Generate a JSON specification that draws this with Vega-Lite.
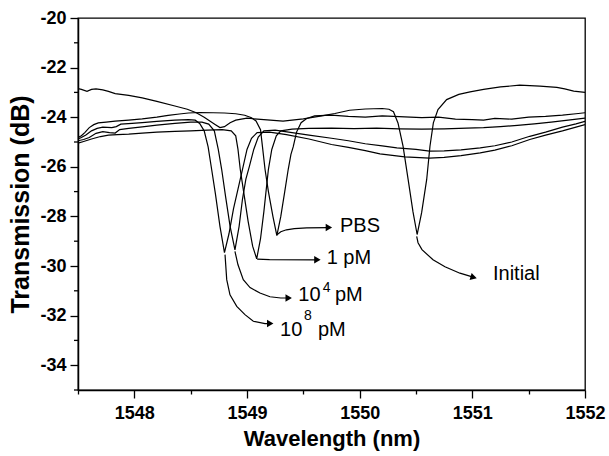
{
  "$schema": "https://vega.github.io/schema/vega-lite/v6.json",
  "width": 507,
  "height": 372,
  "autosize": {"type": "none"},
  "padding": {"left": 78, "top": 18, "right": 24, "bottom": 66},
  "background": "white",
  "config": {
    "view": {"stroke": "black", "strokeWidth": 1.3},
    "font": "Liberation Sans",
    "axis": {"grid": false, "domainColor": "black", "domainWidth": 1.5, "tickColor": "black", "tickWidth": 1.3, "labelColor": "black", "titleColor": "black", "labelOverlap": false, "labelFlush": false}
  },
  "datasets": {
    "curves": [
      {"s":"Initial","x":1547.50,"y":-22.85},{"s":"Initial","x":1547.53,"y":-22.88},{"s":"Initial","x":1547.58,"y":-22.96},{"s":"Initial","x":1547.62,"y":-22.88},{"s":"Initial","x":1547.66,"y":-22.86},{"s":"Initial","x":1547.72,"y":-22.90},{"s":"Initial","x":1547.77,"y":-22.96},{"s":"Initial","x":1547.83,"y":-23.05},{"s":"Initial","x":1547.95,"y":-23.12},{"s":"Initial","x":1548.07,"y":-23.22},{"s":"Initial","x":1548.20,"y":-23.36},{"s":"Initial","x":1548.36,"y":-23.55},{"s":"Initial","x":1548.47,"y":-23.68},{"s":"Initial","x":1548.55,"y":-23.82},{"s":"Initial","x":1548.62,"y":-24.00},{"s":"Initial","x":1548.68,"y":-24.18},{"s":"Initial","x":1548.72,"y":-24.30},{"s":"Initial","x":1548.76,"y":-24.42},{"s":"Initial","x":1548.80,"y":-24.38},{"s":"Initial","x":1548.85,"y":-24.22},{"s":"Initial","x":1548.90,"y":-24.12},{"s":"Initial","x":1549.00,"y":-24.04},{"s":"Initial","x":1549.15,"y":-24.10},{"s":"Initial","x":1549.32,"y":-24.16},{"s":"Initial","x":1549.50,"y":-24.07},{"s":"Initial","x":1549.65,"y":-23.96},{"s":"Initial","x":1549.78,"y":-23.85},{"s":"Initial","x":1549.91,"y":-23.72},{"s":"Initial","x":1550.05,"y":-23.67},{"s":"Initial","x":1550.20,"y":-23.65},{"s":"Initial","x":1550.26,"y":-23.68},{"s":"Initial","x":1550.30,"y":-23.78},{"s":"Initial","x":1550.34,"y":-24.23},{"s":"Initial","x":1550.385,"y":-25.17},{"s":"Initial","x":1550.43,"y":-26.51},{"s":"Initial","x":1550.473,"y":-27.81},{"s":"Initial","x":1550.51,"y":-28.73},{"s":"Initial","x":1550.55,"y":-27.85},{"s":"Initial","x":1550.595,"y":-26.51},{"s":"Initial","x":1550.624,"y":-25.17},{"s":"Initial","x":1550.654,"y":-24.23},{"s":"Initial","x":1550.695,"y":-23.69},{"s":"Initial","x":1550.772,"y":-23.29},{"s":"Initial","x":1550.88,"y":-23.08},{"s":"Initial","x":1550.98,"y":-22.98},{"s":"Initial","x":1551.10,"y":-22.88},{"s":"Initial","x":1551.25,"y":-22.78},{"s":"Initial","x":1551.42,"y":-22.71},{"s":"Initial","x":1551.60,"y":-22.75},{"s":"Initial","x":1551.75,"y":-22.80},{"s":"Initial","x":1551.82,"y":-22.86},{"s":"Initial","x":1551.90,"y":-22.95},{"s":"Initial","x":1552.00,"y":-23.00},

      {"s":"PBS","x":1547.50,"y":-24.82},{"s":"PBS","x":1547.53,"y":-24.75},{"s":"PBS","x":1547.56,"y":-24.62},{"s":"PBS","x":1547.60,"y":-24.42},{"s":"PBS","x":1547.64,"y":-24.30},{"s":"PBS","x":1547.68,"y":-24.23},{"s":"PBS","x":1547.75,"y":-24.20},{"s":"PBS","x":1547.83,"y":-24.16},{"s":"PBS","x":1547.95,"y":-24.12},{"s":"PBS","x":1548.07,"y":-24.07},{"s":"PBS","x":1548.20,"y":-24.00},{"s":"PBS","x":1548.30,"y":-23.93},{"s":"PBS","x":1548.40,"y":-23.87},{"s":"PBS","x":1548.48,"y":-23.83},{"s":"PBS","x":1548.58,"y":-23.81},{"s":"PBS","x":1548.70,"y":-23.82},{"s":"PBS","x":1548.80,"y":-23.83},{"s":"PBS","x":1548.90,"y":-23.86},{"s":"PBS","x":1548.98,"y":-23.92},{"s":"PBS","x":1549.04,"y":-24.02},{"s":"PBS","x":1549.08,"y":-24.15},{"s":"PBS","x":1549.12,"y":-24.50},{"s":"PBS","x":1549.14,"y":-25.30},{"s":"PBS","x":1549.16,"y":-26.10},{"s":"PBS","x":1549.19,"y":-27.00},{"s":"PBS","x":1549.23,"y":-28.00},{"s":"PBS","x":1549.265,"y":-28.78},{"s":"PBS","x":1549.30,"y":-28.00},{"s":"PBS","x":1549.335,"y":-27.00},{"s":"PBS","x":1549.366,"y":-26.10},{"s":"PBS","x":1549.39,"y":-25.50},{"s":"PBS","x":1549.41,"y":-25.20},{"s":"PBS","x":1549.44,"y":-24.60},{"s":"PBS","x":1549.48,"y":-24.22},{"s":"PBS","x":1549.53,"y":-24.05},{"s":"PBS","x":1549.60,"y":-23.95},{"s":"PBS","x":1549.75,"y":-23.92},{"s":"PBS","x":1549.90,"y":-23.97},{"s":"PBS","x":1550.05,"y":-24.00},{"s":"PBS","x":1550.20,"y":-23.95},{"s":"PBS","x":1550.35,"y":-23.98},{"s":"PBS","x":1550.55,"y":-24.02},{"s":"PBS","x":1550.70,"y":-24.00},{"s":"PBS","x":1550.85,"y":-24.08},{"s":"PBS","x":1551.00,"y":-24.10},{"s":"PBS","x":1551.10,"y":-24.12},{"s":"PBS","x":1551.20,"y":-24.05},{"s":"PBS","x":1551.35,"y":-24.08},{"s":"PBS","x":1551.50,"y":-24.00},{"s":"PBS","x":1551.65,"y":-23.97},{"s":"PBS","x":1551.80,"y":-23.92},{"s":"PBS","x":1551.92,"y":-23.86},{"s":"PBS","x":1552.00,"y":-23.82},

      {"s":"1pM","x":1547.50,"y":-25.05},{"s":"1pM","x":1547.55,"y":-24.98},{"s":"1pM","x":1547.62,"y":-24.88},{"s":"1pM","x":1547.70,"y":-24.78},{"s":"1pM","x":1547.77,"y":-24.72},{"s":"1pM","x":1547.85,"y":-24.70},{"s":"1pM","x":1547.95,"y":-24.68},{"s":"1pM","x":1548.07,"y":-24.64},{"s":"1pM","x":1548.20,"y":-24.60},{"s":"1pM","x":1548.36,"y":-24.57},{"s":"1pM","x":1548.50,"y":-24.55},{"s":"1pM","x":1548.65,"y":-24.52},{"s":"1pM","x":1548.78,"y":-24.50},{"s":"1pM","x":1548.86,"y":-24.55},{"s":"1pM","x":1548.90,"y":-24.75},{"s":"1pM","x":1548.92,"y":-25.30},{"s":"1pM","x":1548.94,"y":-26.10},{"s":"1pM","x":1548.97,"y":-27.00},{"s":"1pM","x":1549.01,"y":-28.20},{"s":"1pM","x":1549.05,"y":-29.20},{"s":"1pM","x":1549.086,"y":-29.71},{"s":"1pM","x":1549.12,"y":-28.90},{"s":"1pM","x":1549.15,"y":-27.80},{"s":"1pM","x":1549.19,"y":-26.10},{"s":"1pM","x":1549.22,"y":-25.30},{"s":"1pM","x":1549.26,"y":-24.75},{"s":"1pM","x":1549.30,"y":-24.55},{"s":"1pM","x":1549.40,"y":-24.48},{"s":"1pM","x":1549.55,"y":-24.45},{"s":"1pM","x":1549.75,"y":-24.44},{"s":"1pM","x":1549.95,"y":-24.46},{"s":"1pM","x":1550.15,"y":-24.44},{"s":"1pM","x":1550.35,"y":-24.47},{"s":"1pM","x":1550.55,"y":-24.48},{"s":"1pM","x":1550.75,"y":-24.47},{"s":"1pM","x":1550.95,"y":-24.44},{"s":"1pM","x":1551.10,"y":-24.42},{"s":"1pM","x":1551.25,"y":-24.38},{"s":"1pM","x":1551.40,"y":-24.33},{"s":"1pM","x":1551.55,"y":-24.27},{"s":"1pM","x":1551.70,"y":-24.20},{"s":"1pM","x":1551.85,"y":-24.12},{"s":"1pM","x":1552.00,"y":-24.04},

      {"s":"1e4","x":1547.50,"y":-24.95},{"s":"1e4","x":1547.55,"y":-24.90},{"s":"1e4","x":1547.60,"y":-24.82},{"s":"1e4","x":1547.66,"y":-24.65},{"s":"1e4","x":1547.72,"y":-24.58},{"s":"1e4","x":1547.78,"y":-24.62},{"s":"1e4","x":1547.83,"y":-24.64},{"s":"1e4","x":1547.87,"y":-24.50},{"s":"1e4","x":1547.95,"y":-24.45},{"s":"1e4","x":1548.07,"y":-24.39},{"s":"1e4","x":1548.20,"y":-24.32},{"s":"1e4","x":1548.36,"y":-24.25},{"s":"1e4","x":1548.50,"y":-24.20},{"s":"1e4","x":1548.60,"y":-24.20},{"s":"1e4","x":1548.66,"y":-24.28},{"s":"1e4","x":1548.71,"y":-24.55},{"s":"1e4","x":1548.745,"y":-25.30},{"s":"1e4","x":1548.775,"y":-26.10},{"s":"1e4","x":1548.81,"y":-27.20},{"s":"1e4","x":1548.85,"y":-28.40},{"s":"1e4","x":1548.893,"y":-29.35},{"s":"1e4","x":1548.93,"y":-28.40},{"s":"1e4","x":1548.96,"y":-27.30},{"s":"1e4","x":1548.99,"y":-26.50},{"s":"1e4","x":1549.02,"y":-26.00},{"s":"1e4","x":1549.06,"y":-25.30},{"s":"1e4","x":1549.10,"y":-24.80},{"s":"1e4","x":1549.15,"y":-24.55},{"s":"1e4","x":1549.25,"y":-24.52},{"s":"1e4","x":1549.40,"y":-24.62},{"s":"1e4","x":1549.55,"y":-24.72},{"s":"1e4","x":1549.75,"y":-24.85},{"s":"1e4","x":1549.90,"y":-24.95},{"s":"1e4","x":1550.05,"y":-25.07},{"s":"1e4","x":1550.20,"y":-25.16},{"s":"1e4","x":1550.33,"y":-25.24},{"s":"1e4","x":1550.50,"y":-25.30},{"s":"1e4","x":1550.62,"y":-25.37},{"s":"1e4","x":1550.75,"y":-25.36},{"s":"1e4","x":1550.90,"y":-25.32},{"s":"1e4","x":1551.07,"y":-25.24},{"s":"1e4","x":1551.20,"y":-25.15},{"s":"1e4","x":1551.35,"y":-25.00},{"s":"1e4","x":1551.51,"y":-24.77},{"s":"1e4","x":1551.65,"y":-24.60},{"s":"1e4","x":1551.80,"y":-24.40},{"s":"1e4","x":1551.92,"y":-24.27},{"s":"1e4","x":1552.00,"y":-24.17},

      {"s":"1e8","x":1547.50,"y":-24.88},{"s":"1e8","x":1547.53,"y":-24.82},{"s":"1e8","x":1547.57,"y":-24.72},{"s":"1e8","x":1547.62,"y":-24.55},{"s":"1e8","x":1547.67,"y":-24.45},{"s":"1e8","x":1547.72,"y":-24.40},{"s":"1e8","x":1547.80,"y":-24.42},{"s":"1e8","x":1547.84,"y":-24.38},{"s":"1e8","x":1547.88,"y":-24.28},{"s":"1e8","x":1547.98,"y":-24.25},{"s":"1e8","x":1548.07,"y":-24.22},{"s":"1e8","x":1548.20,"y":-24.17},{"s":"1e8","x":1548.36,"y":-24.12},{"s":"1e8","x":1548.48,"y":-24.10},{"s":"1e8","x":1548.54,"y":-24.12},{"s":"1e8","x":1548.58,"y":-24.25},{"s":"1e8","x":1548.62,"y":-24.55},{"s":"1e8","x":1548.655,"y":-25.20},{"s":"1e8","x":1548.686,"y":-26.10},{"s":"1e8","x":1548.72,"y":-27.10},{"s":"1e8","x":1548.76,"y":-28.40},{"s":"1e8","x":1548.80,"y":-29.46},{"s":"1e8","x":1548.84,"y":-28.70},{"s":"1e8","x":1548.88,"y":-27.70},{"s":"1e8","x":1548.92,"y":-26.90},{"s":"1e8","x":1548.96,"y":-26.10},{"s":"1e8","x":1549.00,"y":-25.30},{"s":"1e8","x":1549.04,"y":-24.85},{"s":"1e8","x":1549.09,"y":-24.62},{"s":"1e8","x":1549.20,"y":-24.60},{"s":"1e8","x":1549.35,"y":-24.70},{"s":"1e8","x":1549.55,"y":-24.88},{"s":"1e8","x":1549.75,"y":-25.10},{"s":"1e8","x":1549.90,"y":-25.22},{"s":"1e8","x":1550.05,"y":-25.35},{"s":"1e8","x":1550.18,"y":-25.48},{"s":"1e8","x":1550.40,"y":-25.60},{"s":"1e8","x":1550.62,"y":-25.65},{"s":"1e8","x":1550.75,"y":-25.62},{"s":"1e8","x":1550.90,"y":-25.55},{"s":"1e8","x":1551.07,"y":-25.44},{"s":"1e8","x":1551.20,"y":-25.33},{"s":"1e8","x":1551.35,"y":-25.15},{"s":"1e8","x":1551.51,"y":-24.90},{"s":"1e8","x":1551.65,"y":-24.72},{"s":"1e8","x":1551.80,"y":-24.55},{"s":"1e8","x":1551.92,"y":-24.40},{"s":"1e8","x":1552.00,"y":-24.30}
    ],
    "arrows": [
      {"a":"PBS","x":1549.266,"y":-28.74},{"a":"PBS","x":1549.30,"y":-28.62},{"a":"PBS","x":1549.35,"y":-28.54},{"a":"PBS","x":1549.42,"y":-28.49},{"a":"PBS","x":1549.53,"y":-28.46},{"a":"PBS","x":1549.72,"y":-28.45},
      {"a":"1pM","x":1549.09,"y":-29.72},{"a":"1pM","x":1549.20,"y":-29.74},{"a":"1pM","x":1549.62,"y":-29.75},
      {"a":"1e4","x":1548.893,"y":-29.41},{"a":"1e4","x":1548.92,"y":-29.95},{"a":"1e4","x":1548.967,"y":-30.55},{"a":"1e4","x":1549.027,"y":-30.87},{"a":"1e4","x":1549.115,"y":-31.09},{"a":"1e4","x":1549.204,"y":-31.24},{"a":"1e4","x":1549.30,"y":-31.29},{"a":"1e4","x":1549.36,"y":-31.29},
      {"a":"1e8","x":1548.805,"y":-29.54},{"a":"1e8","x":1548.82,"y":-30.55},{"a":"1e8","x":1548.849,"y":-31.16},{"a":"1e8","x":1548.909,"y":-31.63},{"a":"1e8","x":1548.982,"y":-31.96},{"a":"1e8","x":1549.056,"y":-32.23},{"a":"1e8","x":1549.16,"y":-32.32},{"a":"1e8","x":1549.20,"y":-32.32},
      {"a":"Initial","x":1550.506,"y":-28.81},{"a":"Initial","x":1550.518,"y":-29.06},{"a":"Initial","x":1550.553,"y":-29.34},{"a":"Initial","x":1550.651,"y":-29.75},{"a":"Initial","x":1550.757,"y":-30.03},{"a":"Initial","x":1550.89,"y":-30.29},{"a":"Initial","x":1551.00,"y":-30.44}
    ],
    "heads": [
      {"a":"PBS","x":1549.727,"y":-28.45},{"a":"1pM","x":1549.625,"y":-29.75},{"a":"1e4","x":1549.37,"y":-31.29},{"a":"1e8","x":1549.206,"y":-32.32}
    ],
    "heads2": [
      {"a":"Initial","x":1551.012,"y":-30.46}
    ],
    "labels": [
      {"t":"PBS","x":1549.825,"y":-28.61},{"t":"1 pM","x":1549.707,"y":-29.91},{"t":"10","x":1549.455,"y":-31.43},{"t":"pM","x":1549.78,"y":-31.43},{"t":"10","x":1549.293,"y":-32.84},{"t":"pM","x":1549.63,"y":-32.84},{"t":"Initial","x":1551.183,"y":-30.55}
    ],
    "sups": [
      {"t":"4","x":1549.672,"y":-31.03},{"t":"8","x":1549.506,"y":-32.16}
    ],
    "yminor": [
      {"v":-35},{"v":-33},{"v":-31},{"v":-29},{"v":-27},{"v":-25},{"v":-23},{"v":-21}
    ]
  },
  "layer": [
    {
      "data": {"name": "curves"},
      "mark": {"type": "line", "color": "black", "strokeWidth": 1.2, "clip": true},
      "encoding": {
        "x": {"field": "x", "type": "quantitative", "scale": {"domain": [1547.5, 1552], "nice": false, "zero": false},
          "axis": {"orient": "bottom", "values": [1547.5, 1548, 1548.5, 1549, 1549.5, 1550, 1550.5, 1551, 1551.5, 1552],
            "labelExpr": "datum.value % 1 === 0 ? format(datum.value, 'd') : ''",
            "tickSize": {"condition": {"test": "datum.value % 1 !== 0", "value": 4}, "value": 8},
            "labelFontSize": 18, "labelFontWeight": "bold", "labelPadding": 6,
            "title": "Wavelength (nm)", "titleFontSize": 22, "titleFontWeight": "bold", "titlePadding": 6}},
        "y": {"field": "y", "type": "quantitative", "scale": {"domain": [-35, -20], "nice": false, "zero": false},
          "axis": {"orient": "left", "values": [-34, -32, -30, -28, -26, -24, -22, -20],
            "labelExpr": "'-' + format(abs(datum.value), 'd')",
            "tickSize": 8,
            "labelFontSize": 18, "labelFontWeight": "bold", "labelPadding": 4,
            "title": "Transmission (dB)", "titleFontSize": 25, "titleFontWeight": "bold", "titlePadding": 6}},
        "detail": {"field": "s", "type": "nominal"}
      }
    },
    {
      "data": {"name": "yminor"},
      "mark": {"type": "rule", "color": "black", "strokeWidth": 1.3, "clip": false},
      "encoding": {
        "y": {"field": "v", "type": "quantitative"},
        "x": {"datum": 1547.5},
        "x2": {"datum": 1547.4645}
      }
    },
    {
      "data": {"name": "arrows"},
      "mark": {"type": "line", "color": "black", "strokeWidth": 1.2},
      "encoding": {
        "x": {"field": "x", "type": "quantitative"},
        "y": {"field": "y", "type": "quantitative"},
        "detail": {"field": "a", "type": "nominal"}
      }
    },
    {
      "data": {"name": "heads"},
      "mark": {"type": "point", "shape": "triangle-right", "filled": true, "color": "black", "opacity": 1, "size": 55},
      "encoding": {
        "x": {"field": "x", "type": "quantitative"},
        "y": {"field": "y", "type": "quantitative"}
      }
    },
    {
      "data": {"name": "heads2"},
      "mark": {"type": "point", "shape": "triangle-right", "filled": true, "color": "black", "opacity": 1, "size": 55, "angle": 16},
      "encoding": {
        "x": {"field": "x", "type": "quantitative"},
        "y": {"field": "y", "type": "quantitative"}
      }
    },
    {
      "data": {"name": "labels"},
      "mark": {"type": "text", "align": "left", "baseline": "alphabetic", "fontSize": 20, "color": "black"},
      "encoding": {
        "x": {"field": "x", "type": "quantitative"},
        "y": {"field": "y", "type": "quantitative"},
        "text": {"field": "t"}
      }
    },
    {
      "data": {"name": "sups"},
      "mark": {"type": "text", "align": "left", "baseline": "alphabetic", "fontSize": 14, "color": "black"},
      "encoding": {
        "x": {"field": "x", "type": "quantitative"},
        "y": {"field": "y", "type": "quantitative"},
        "text": {"field": "t"}
      }
    }
  ]
}
